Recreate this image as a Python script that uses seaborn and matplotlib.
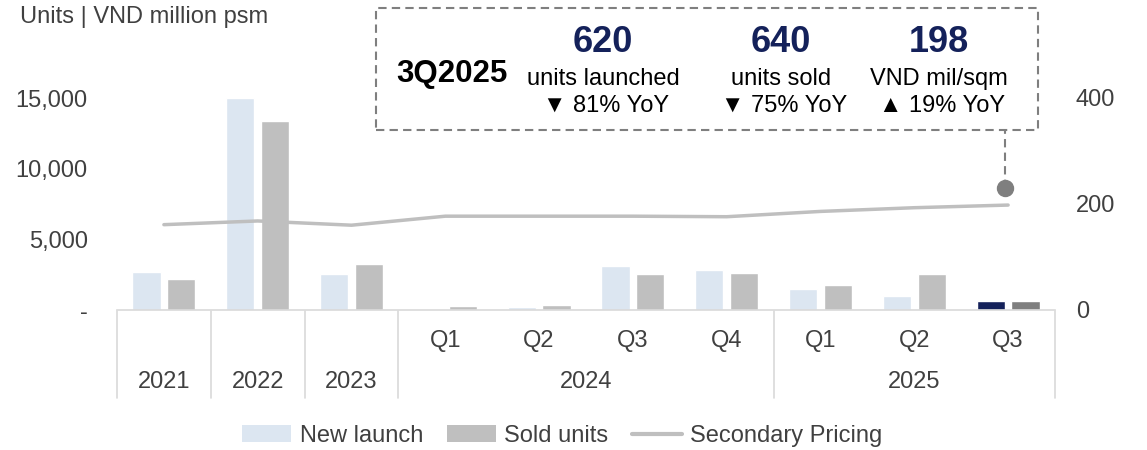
import numpy as np
import pandas as pd
import matplotlib
matplotlib.use("Agg")
import matplotlib.pyplot as plt
import seaborn as sns
from matplotlib.patches import Rectangle, Patch
from matplotlib.lines import Line2D
from matplotlib.transforms import blended_transform_factory

# ---------------- data ----------------
periods = ["2021", "2022", "2023", "Q1 2024", "Q2 2024", "Q3 2024", "Q4 2024",
           "Q1 2025", "Q2 2025", "Q3 2025"]
quarter_labels = ["", "", "", "Q1", "Q2", "Q3", "Q4", "Q1", "Q2", "Q3"]
year_groups = [("2021", 0, 0), ("2022", 1, 1), ("2023", 2, 2),
               ("2024", 3, 6), ("2025", 7, 9)]
new_launch = [2700, 15000, 2550, 0, 200, 3100, 2800, 1500, 1000, 620]
sold_units = [2200, 13400, 3250, 250, 350, 2550, 2650, 1770, 2550, 640]
secondary_price = [161, 168, 160, 177, 177, 177, 176, 186, 193, 198]
series_names = ["New launch", "Sold units", "Secondary Pricing"]
left_ticks = [0, 5000, 10000, 15000]
left_tick_labels = ["-", "5,000", "10,000", "15,000"]
right_ticks = [0, 200, 400]

highlight = {"title": "3Q2025",
             "values": ["620", "640", "198"],
             "units": ["units launched", "units sold", "VND mil/sqm"],
             "changes": ["▼ 81% YoY", "▼ 75% YoY", "▲ 19% YoY"]}

# ---------------- style ----------------
sns.set_style("white")
plt.rcParams["font.family"] = ["Liberation Sans", "DejaVu Sans"]

LIGHT = "#dce6f1"
GRAY = "#bfbfbf"
NAVY = "#14215a"
DGRAY = "#7f7f7f"
TXT = "#404040"
GRID = "#d9d9d9"

W, H = 1147, 450
fig = plt.figure(figsize=(W / 100, H / 100), dpi=100)

def fx(px):
    return px / W

def fy(py):
    return 1 - py / H

ax_left, ax_right, y0, ytop = 117, 1055, 310, 27
ax = fig.add_axes([fx(ax_left), fy(y0), fx(ax_right - ax_left), (y0 - ytop) / H])

df = pd.DataFrame({
    "period": periods * 2,
    "value": new_launch + sold_units,
    "series": [series_names[0]] * len(periods) + [series_names[1]] * len(periods),
})
sns.barplot(data=df, x="period", y="value", hue="series", order=periods,
            hue_order=series_names[:2], palette=[LIGHT, GRAY],
            width=0.74, gap=0.19, ax=ax, legend=False, saturation=1)
ax.containers[0][-1].set_facecolor(NAVY)
ax.containers[1][-1].set_facecolor(DGRAY)

pxpu = 212 / 15000  # pixel per unit
ymax = (y0 - ytop) / pxpu
ax.set_ylim(0, ymax)
ax.set_xlim(-0.5, len(periods) - 0.5)
ax.set_yticks(left_ticks)
ax.set_yticklabels(left_tick_labels)
ax.tick_params(axis="y", length=0, pad=21, labelsize=17, labelcolor=TXT)
ax.set_xticks([])
ax.set_xlabel("")
ax.set_ylabel("")
for s in ["top", "right", "left"]:
    ax.spines[s].set_visible(False)
ax.spines["bottom"].set_color(GRID)
ax.spines["bottom"].set_linewidth(1.2)

ax2 = ax.twinx()
sns.lineplot(x=np.arange(len(periods)), y=secondary_price, ax=ax2,
             color=GRAY, linewidth=2.5)
ax2.set_ylim(0, ymax * 400 / 15000)
ax2.set_yticks(right_ticks)
ax2.set_yticklabels([str(t) for t in right_ticks])
ax2.tick_params(axis="y", length=0, pad=15, labelsize=17, labelcolor=TXT)
ax2.set_ylabel("")
for s in ax2.spines.values():
    s.set_visible(False)
ax2.set_xlim(-0.5, len(periods) - 0.5)

# ---------------- multi-level category axis ----------------
axh = y0 - ytop
def ay(py):
    return -(py - y0) / axh

tr = blended_transform_factory(ax.transData, ax.transAxes)
for b in [-0.5, 0.5, 1.5, 2.5, 6.5, 9.5]:
    ax.plot([b, b], [ay(311), ay(398)], transform=tr, color=GRID, lw=1.2,
            clip_on=False)
for i, q in enumerate(quarter_labels):
    if q:
        ax.text(i, ay(341), q, transform=tr, ha="center", va="center",
                fontsize=17, color=TXT)
for name, a, b in year_groups:
    ax.text((a + b) / 2, ay(382), name, transform=tr, ha="center", va="center",
            fontsize=17, color=TXT)

# ---------------- title ----------------
fig.text(fx(20), fy(17), "Units | VND million psm", ha="left", va="center",
         fontsize=17, color=TXT)

# ---------------- highlight box ----------------
box = Rectangle((fx(376), fy(130)), fx(1038 - 376), (130 - 8) / H,
                transform=fig.transFigure, fill=False, edgecolor=DGRAY,
                linewidth=1.5, linestyle=(0, (4, 2.5)))
fig.add_artist(box)
fig.text(fx(452), fy(74), highlight["title"], ha="center", va="center",
         fontsize=22.5, fontweight="bold", color="black")
col_x = [603, 781, 939]
for cx, v, u, c in zip(col_x, highlight["values"], highlight["units"],
                       highlight["changes"]):
    fig.text(fx(cx), fy(42), v, ha="center", va="center", fontsize=26,
             fontweight="bold", color=NAVY)
    fig.text(fx(cx), fy(79), u, ha="center", va="center", fontsize=17,
             color="black")
    fig.text(fx(cx + 3), fy(106), c, ha="center", va="center", fontsize=17,
             color="black", family=["Liberation Sans", "DejaVu Sans"])

# connector: dot above the last price point + dashed line up to the box
fig.canvas.draw()
last_x = len(periods) - 1
disp = ax2.transData.transform((last_x, secondary_price[-1]))
dot_disp_x = disp[0] - 3
dot_disp_y = disp[1] + 17
dot_fig = fig.transFigure.inverted().transform((dot_disp_x, dot_disp_y))
fig.add_artist(Line2D([dot_fig[0], dot_fig[0]], [dot_fig[1], fy(130)],
                      transform=fig.transFigure, color=DGRAY, lw=1.5,
                      linestyle=(0, (4, 2.5))))
fig.add_artist(Line2D([dot_fig[0]], [dot_fig[1]], transform=fig.transFigure,
                      marker="o", markersize=11.5, color=DGRAY, lw=0))

# ---------------- legend ----------------
handles = [Patch(facecolor=LIGHT, edgecolor="none"),
           Patch(facecolor=GRAY, edgecolor="none"),
           Line2D([0], [0], color=GRAY, lw=3)]
fig.legend(handles, series_names, loc="center", bbox_to_anchor=(fx(562), fy(436)),
           ncol=3, frameon=False, fontsize=17, handlelength=2.1,
           handleheight=0.7, handletextpad=0.35, columnspacing=1.0,
           labelcolor=TXT)

fig.savefig("out.png", dpi=100)
